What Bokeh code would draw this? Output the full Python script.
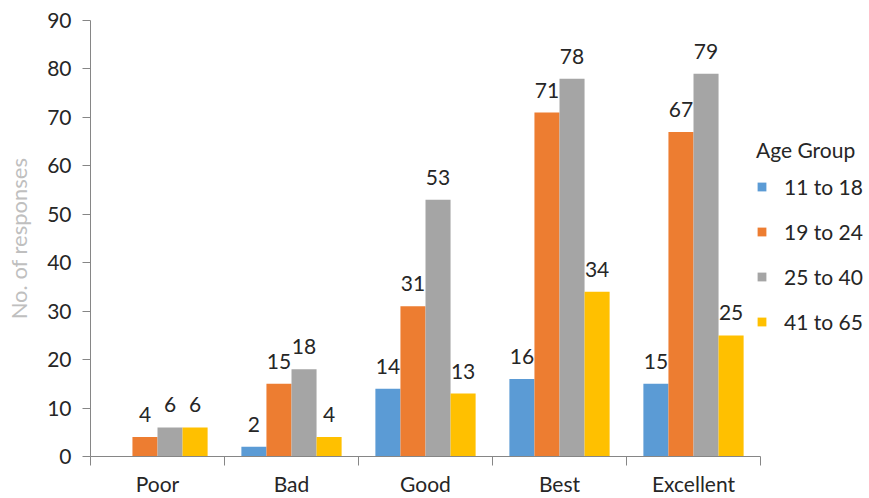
import numpy as np
from bokeh.plotting import figure
from bokeh.models import ColumnDataSource, FixedTicker, Legend, LegendItem, LabelSet, Range1d
from bokeh.core.properties import value
from bokeh.embed import file_html
from bokeh.resources import INLINE

categories = ["Poor", "Bad", "Good", "Best", "Excellent"]
series_names = ["11 to 18", "19 to 24", "25 to 40", "41 to 65"]
age_11_18 = [np.nan, 2, 14, 16, 15]
age_19_24 = [4, 15, 31, 71, 67]
age_25_40 = [6, 18, 53, 78, 79]
age_41_65 = [6, 4, 13, 34, 25]
colors = ["#5B9BD5", "#ED7D31", "#A5A5A5", "#FFC000"]
y_ticks = list(range(0, 91, 10))

FONT = "Lato"
FS = "21px"
n = len(categories)
centers = np.arange(n) + 0.5
bar_w = 0.187

p = figure(frame_width=670, frame_height=436, min_border_left=90, min_border_top=20,
           min_border_right=109, min_border_bottom=42,
           x_range=Range1d(0, n), y_range=Range1d(0, 90),
           output_backend="svg", toolbar_location=None)
p.outline_line_color = None
p.xgrid.grid_line_color = None
p.ygrid.grid_line_color = None
p.background_fill_color = "white"

all_series = [age_11_18, age_19_24, age_25_40, age_41_65]
items = []
for i, (vals, name, col) in enumerate(zip(all_series, series_names, colors)):
    off = (i - 1.5) * bar_w
    xs = centers + off
    src = ColumnDataSource(dict(x=xs, top=vals))
    r = p.vbar(x="x", top="top", width=bar_w, source=src, fill_color=col, line_color=None)
    items.append(LegendItem(label=name, renderers=[r]))
    lx, ly, lt = [], [], []
    for x, v in zip(xs, vals):
        if not np.isnan(v):
            lx.append(x); ly.append(v); lt.append(str(int(v)))
    lsrc = ColumnDataSource(dict(x=lx, y=ly, t=lt))
    p.add_layout(LabelSet(x="x", y="y", text="t", source=lsrc, text_align="center",
                          text_baseline="alphabetic", y_offset=15,
                          text_font=value(FONT), text_font_size=value(FS),
                          text_color="#262626"))

# x axis
xa = p.xaxis[0]
xa.ticker = FixedTicker(ticks=list(centers), minor_ticks=list(range(n + 1)))
xa.major_label_overrides = {float(c): cat for c, cat in zip(centers, categories)}
xa.major_tick_line_color = None
xa.major_tick_out = 0
xa.major_tick_in = 0
xa.minor_tick_line_color = "#868686"
xa.minor_tick_out = 9
xa.minor_tick_in = 0
xa.axis_line_color = "#868686"
xa.major_label_text_font = FONT
xa.major_label_text_font_size = FS
xa.major_label_text_color = "#262626"
xa.major_label_standoff = 5

ya = p.yaxis[0]
ya.ticker = FixedTicker(ticks=y_ticks, minor_ticks=[])
ya.axis_line_color = "#868686"
ya.major_tick_line_color = "#868686"
ya.major_tick_out = 8
ya.major_tick_in = 0
ya.major_label_standoff = 11
ya.major_label_text_font = FONT
ya.major_label_text_font_size = FS
ya.major_label_text_color = "#262626"
ya.axis_label = "No. of responses"
ya.axis_label_text_font = FONT
ya.axis_label_text_font_size = "22px"
ya.axis_label_text_font_style = "normal"
ya.axis_label_text_color = "#BFBFBF"
ya.axis_label_standoff = 12

legend = Legend(items=items, location=(-4, 122), title="Age Group",
                title_text_font=FONT, title_text_font_size=FS, title_text_color="#262626",
                title_text_font_style="normal", title_standoff=12,
                label_text_font=FONT, label_text_font_size=FS, label_text_color="#262626",
                glyph_width=11, glyph_height=11, label_standoff=17, label_height=24,
                spacing=20, padding=0, margin=0, border_line_color=None,
                background_fill_alpha=0)
p.add_layout(legend, "right")

open("out.html", "w").write(file_html(p, INLINE))
